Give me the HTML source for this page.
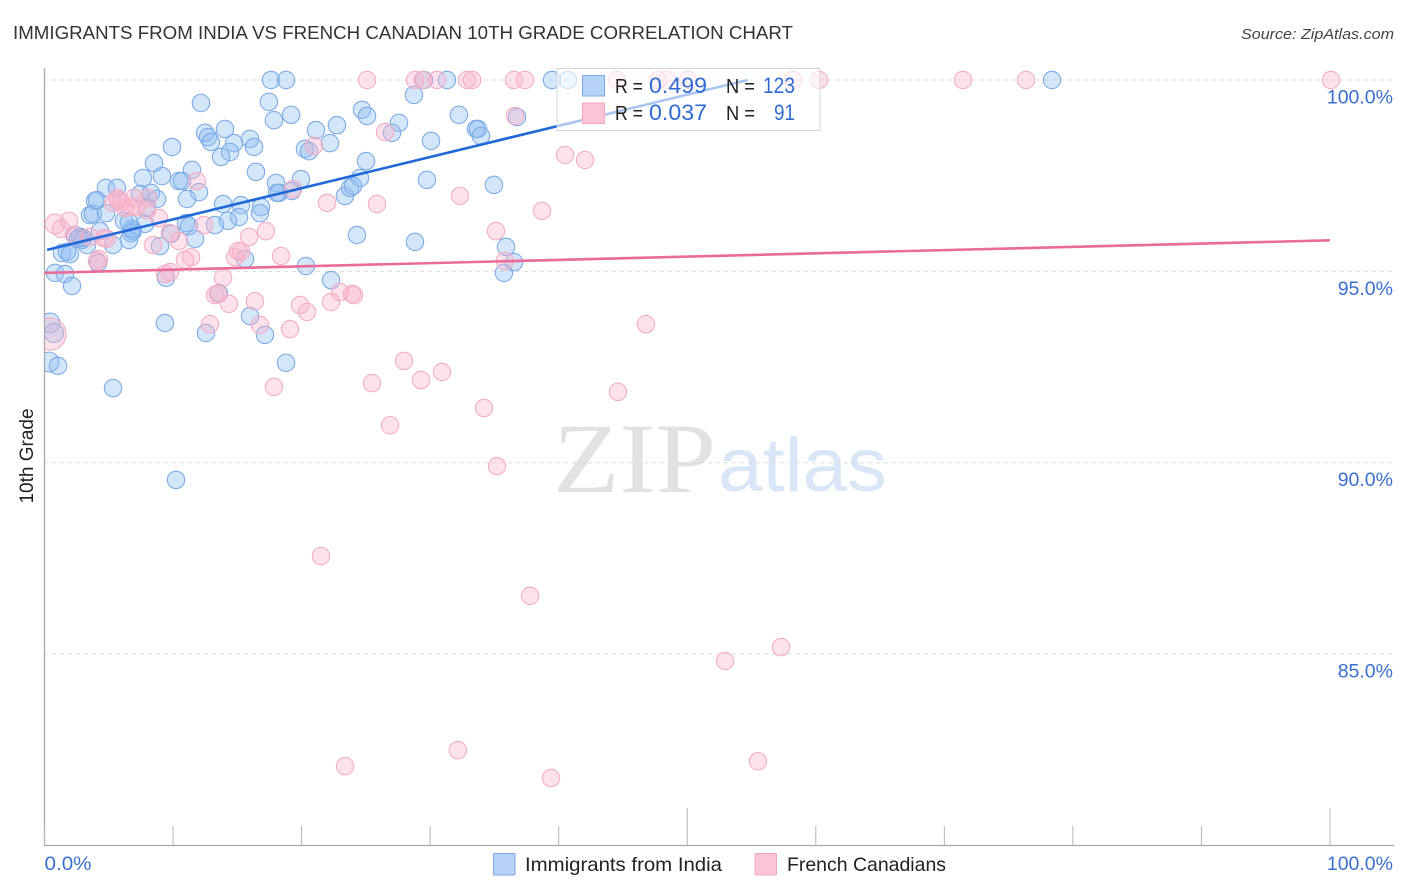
<!DOCTYPE html>
<html lang="en">
<head>
<meta charset="utf-8">
<title>Immigrants from India vs French Canadian 10th Grade Correlation Chart</title>
<style>
html,body{margin:0;padding:0;background:#fff;width:1406px;height:892px;overflow:hidden}
svg{display:block;font-family:"Liberation Sans",sans-serif}
</style>
</head>
<body>
<svg id="chart" width="1406" height="892" viewBox="0 0 1406 892" xmlns="http://www.w3.org/2000/svg">
  <defs><clipPath id="plot-clip"><rect x="45" y="60" width="1349" height="785"/></clipPath></defs>
  <rect x="0" y="0" width="1406" height="892" fill="#fff"/>
  <text x="13" y="39" font-size="18.5" fill="#333" textLength="780" lengthAdjust="spacingAndGlyphs">IMMIGRANTS FROM INDIA VS FRENCH CANADIAN 10TH GRADE CORRELATION CHART</text>
  <text x="1394" y="39" font-size="15" font-style="italic" fill="#444" text-anchor="end" textLength="153" lengthAdjust="spacingAndGlyphs">Source: ZipAtlas.com</text>
  <text transform="translate(33,456) rotate(-90)" font-size="19" fill="#222" text-anchor="middle">10th Grade</text>
  <g>
    <text x="553" y="492" font-family="'Liberation Serif',serif" font-size="100" fill="#e2e2e2" textLength="163" lengthAdjust="spacingAndGlyphs">ZIP</text>
    <text x="718" y="491" font-size="76" fill="#d9e6f7" textLength="169" lengthAdjust="spacingAndGlyphs">atlas</text>
  </g>
  <g id="grid"></g>
  <g id="axes"></g>
  <g id="points" clip-path="url(#plot-clip)"></g>
  <g id="trends"></g>
  <g>
    <rect x="557" y="68.5" width="263" height="62" fill="#fff" fill-opacity="0.62" stroke="#d4d4d4" stroke-width="1"/>
    <rect x="582.5" y="75.5" width="22" height="20.5" fill="#b5d2f7" stroke="#7eaae6" stroke-width="1"/>
    <rect x="582.5" y="103" width="22" height="20.5" fill="#fcc5d6" stroke="#f2a6bf" stroke-width="1"/>
    <text x="615" y="93" font-size="20" fill="#222" textLength="28" lengthAdjust="spacingAndGlyphs">R =</text>
    <text x="649" y="93" font-size="22" fill="#2f6bd3" textLength="58" lengthAdjust="spacingAndGlyphs">0.499</text>
    <text x="726" y="93" font-size="20" fill="#222" textLength="29" lengthAdjust="spacingAndGlyphs">N =</text>
    <text x="763" y="93" font-size="22" fill="#2f6bd3" textLength="32" lengthAdjust="spacingAndGlyphs">123</text>
    <text x="615" y="120" font-size="20" fill="#222" textLength="28" lengthAdjust="spacingAndGlyphs">R =</text>
    <text x="649" y="120" font-size="22" fill="#2f6bd3" textLength="58" lengthAdjust="spacingAndGlyphs">0.037</text>
    <text x="726" y="120" font-size="20" fill="#222" textLength="29" lengthAdjust="spacingAndGlyphs">N =</text>
    <text x="774" y="120" font-size="22" fill="#2f6bd3" textLength="21" lengthAdjust="spacingAndGlyphs">91</text>
  </g>
  <g>
    <rect x="493.5" y="853.5" width="21.5" height="21.5" rx="1" fill="#b5d2f7" stroke="#7eaae6" stroke-width="1"/>
    <text x="525" y="871" font-size="19.5" fill="#222" textLength="197" lengthAdjust="spacingAndGlyphs">Immigrants from India</text>
    <rect x="755" y="853.5" width="21.5" height="21.5" rx="1" fill="#fcc5d6" stroke="#f2a6bf" stroke-width="1"/>
    <text x="787" y="871" font-size="19.5" fill="#222" textLength="159" lengthAdjust="spacingAndGlyphs">French Canadians</text>
  </g>
</svg>
<script>
const xTickValues = [0,10,20,30,40,50,60,70,80,90,100];
const yTickValues = [100,95,90,85];
const yTickLabels = ["100.0%","95.0%","90.0%","85.0%"];
const xEdgeTickLabels = ["0.0%","100.0%"];

// Larger markers come first in each series; weights apply by index, all others weigh 1.
const indiaWeights = [1.3,1.2,1.3];
const indiaX = [0.43,0.74,0.35,1.05,17.62,18.79,17.46,12.17,19.18,17.85,22.75,21.12,14.04,12.49,12.72,12.95,15.99,14.74,16.30,22.21,20.26,20.58,14.43,13.73,9.92,8.52,16.45,11.47,9.14,10.46,10.70,7.66,4.78,5.64,19.95,18.01,18.24,18.09,19.25,12.02,11.09,7.43,8.28,8.75,3.93,13.89,15.29,16.84,16.76,15.13,14.27,13.26,3.54,3.77,4.78,6.18,6.88,7.82,4.32,6.73,6.57,5.33,3.31,2.37,2.76,3.00,11.01,11.24,11.71,9.84,8.98,1.36,1.75,1.98,4.16,0.82,1.59,2.14,15.60,20.34,9.45,22.29,23.37,23.77,5.33,9.37,13.57,15.99,17.15,12.56,18.79,10.23,39.48,40.72,29.52,31.31,28.74,24.70,25.09,27.58,27.03,32.24,33.56,33.72,33.95,30.07,36.76,25.01,24.54,24.00,29.75,34.96,24.31,28.82,35.90,36.52,35.74,78.37,6.81,2.61,2.92,6.57,7.97,4.08];
const indiaY = [93.65,93.39,92.63,92.53,100,100,99.43,99.40,99.09,98.95,98.82,98.69,98.72,98.62,98.51,98.38,98.46,98.35,98.25,98.35,98.20,98.14,98.12,97.99,98.25,97.83,97.60,97.65,97.49,97.36,97.36,97.44,97.18,97.18,97.41,97.31,97.05,97.05,97.10,97.07,96.89,97.02,97.05,96.89,96.84,96.76,96.73,96.68,96.52,96.42,96.32,96.21,96.47,96.50,96.52,96.32,96.05,96.24,96.05,96.00,95.82,95.69,95.69,95.95,95.90,95.87,96.26,96.18,95.85,95.98,95.66,95.48,95.51,95.45,95.22,94.96,94.93,94.62,95.32,95.14,94.83,94.77,96.97,97.18,91.95,93.65,94.43,93.83,93.34,93.39,92.61,89.55,100,100,100,100,99.61,99.22,99.06,98.88,98.62,99.09,98.72,98.72,98.54,98.41,99.03,97.88,97.44,97.23,97.39,97.26,95.95,95.77,95.64,95.24,94.96,100,96.11,95.85,95.82,96.29,96.66,96.86];

const frenchWeights = [3.4,1.3];
const frenchX = [0.43,0.82,1.91,1.28,2.29,3.54,4.86,4.24,5.33,5.72,5.95,6.26,7.12,7.97,8.91,11.86,12.41,8.44,9.76,10.46,11.40,10.93,9.37,13.89,14.82,15.29,15.91,17.23,18.40,13.26,14.35,16.37,12.87,16.76,19.10,19.88,20.42,22.29,22.99,23.92,21.98,19.33,20.96,17.85,25.09,28.82,29.44,30.53,32.87,33.26,36.52,37.38,44.54,47.73,48.42,50.06,58.23,60.25,71.45,76.35,100.08,26.49,36.60,40.49,42.05,25.87,32.32,38.70,35.12,35.82,46.79,24.08,27.97,25.48,29.29,30.92,44.61,34.19,26.88,35.20,21.51,37.77,52.94,57.29,23.38,32.16,39.40,55.50,15.05,6.96,8.05,5.64,6.73,4.63,9.76,13.50,4.08];
const frenchY = [93.36,96.24,96.32,96.11,95.95,95.90,95.85,95.32,96.79,96.86,96.81,96.66,96.68,96.60,96.39,97.36,96.21,95.69,96.00,95.79,95.37,95.30,94.93,94.83,95.37,95.51,95.90,96.05,95.40,94.38,94.15,94.22,93.62,93.60,93.49,94.12,93.94,94.20,94.46,94.41,96.79,97.15,98.28,91.98,100,100,100,100,100,100,100,100,100,100,100,100,100,100,100,100,100,98.64,99.06,98.04,97.91,96.76,96.97,96.58,96.05,95.27,93.62,94.38,92.66,92.08,92.16,92.37,91.85,91.43,90.98,89.91,87.56,86.52,84.82,85.18,82.07,82.49,81.76,82.20,95.53,96.92,96.92,96.92,96.68,95.87,94.98,94.41,95.27];

const indiaTrendX = [0.2,54.7];
const indiaTrendY = [95.56,100];
const frenchTrendX = [0,100];
const frenchTrendY = [94.96,95.81];

const NS = "http://www.w3.org/2000/svg";
function xScale(v){ return 44.5 + v * 12.855; }
function yScale(v){ return 80 + (100 - v) * 38.27; }
function make(tag, attrs, parent){
  const el = document.createElementNS(NS, tag);
  for (const k in attrs) el.setAttribute(k, attrs[k]);
  parent.appendChild(el);
  return el;
}

const grid = document.getElementById("grid");
const axes = document.getElementById("axes");
const points = document.getElementById("points");
const trends = document.getElementById("trends");

yTickValues.forEach(function(v, i){
  const line = make("line", {x1:44, x2:1394, y1:yScale(v), y2:yScale(v), stroke:"#dcdcdc", "stroke-width":1, "stroke-dasharray":"4 4"}, grid);
  
  
  const label = make("text", {x:1393, y:yScale(v)+23.5, "font-size":19.5, fill:"#3a6fd0", "text-anchor":"end"}, axes);
  label.textContent = yTickLabels[i];
  
  
});

const yAxisLine = make("line", {x1:44.5, x2:44.5, y1:68, y2:846, stroke:"#a8a8a8", "stroke-width":1.3}, axes);


const xAxisLine = make("line", {x1:44, x2:1394, y1:845.5, y2:845.5, stroke:"#a8a8a8", "stroke-width":1.3}, axes);



xTickValues.forEach(function(v){
  const tall = (v === 50 || v === 100);
  const tick = make("line", {x1:xScale(v), x2:xScale(v), y1: tall ? 808 : 826, y2:845, stroke:"#b4b4b4", "stroke-width":1}, axes);
  
  
});

const xLabelLeft = make("text", {x:xScale(xTickValues[0]), y:870, "font-size":19.5, fill:"#3a6fd0", textLength:47, lengthAdjust:"spacingAndGlyphs"}, axes);
xLabelLeft.textContent = xEdgeTickLabels[0];


const xLabelRight = make("text", {x:1393, y:870, "font-size":19.5, fill:"#3a6fd0", "text-anchor":"end"}, axes);
xLabelRight.textContent = xEdgeTickLabels[1];



const BASE_R = 8.7;
indiaX.forEach(function(v, i){
  const w = i < indiaWeights.length ? indiaWeights[i] : 1;
  const c = make("circle", {cx:xScale(v), cy:yScale(indiaY[i]), r:BASE_R*Math.sqrt(w), fill:"#8fbcf2", "fill-opacity":0.38, stroke:"#7dabe6", "stroke-width":1.1}, points);
  
  
});
frenchX.forEach(function(v, i){
  const w = i < frenchWeights.length ? frenchWeights[i] : 1;
  const c = make("circle", {cx:xScale(v), cy:yScale(frenchY[i]), r:BASE_R*Math.sqrt(w), fill:"#f9b4ca", "fill-opacity":0.38, stroke:"#f3aec4", "stroke-width":1.1}, points);
  
  
});

const indiaLine = make("line", {x1:xScale(indiaTrendX[0]), y1:yScale(indiaTrendY[0]), x2:xScale(indiaTrendX[1]), y2:yScale(indiaTrendY[1]), stroke:"#2069d8", "stroke-width":2.6}, trends);


const frenchLine = make("line", {x1:xScale(frenchTrendX[0]), y1:yScale(frenchTrendY[0]), x2:xScale(frenchTrendX[1]), y2:yScale(frenchTrendY[1]), stroke:"#ea6b98", "stroke-width":2.6}, trends);


</script>
</body>
</html>
